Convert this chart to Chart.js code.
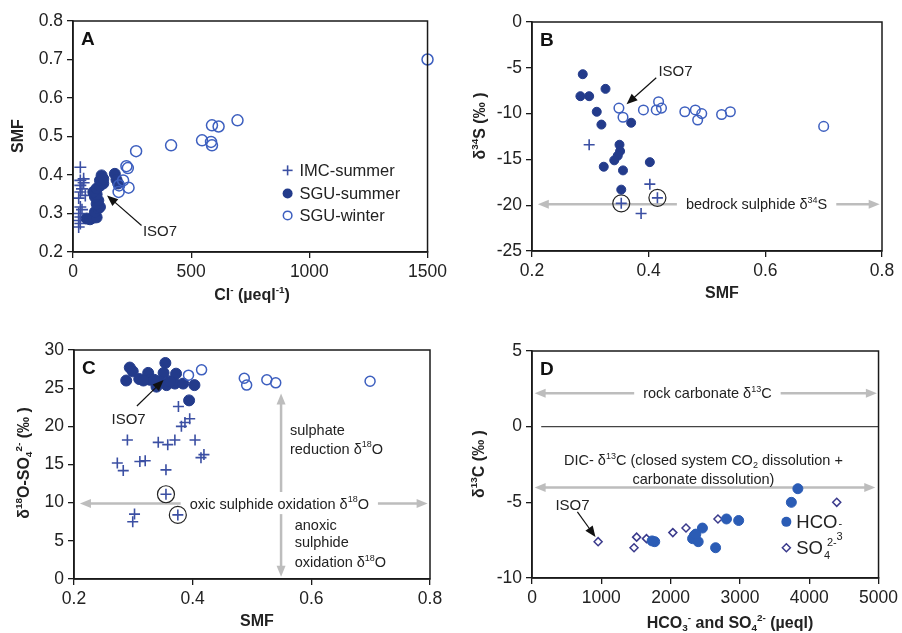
<!DOCTYPE html>
<html lang="en">
<head>
<meta charset="UTF-8" />
<title>SMF and isotope panels</title>
<script src="https://cdn.jsdelivr.net/npm/chart.js"></script>
<style>
  body { margin: 0; background: #fff; width: 902px; height: 633px; position: relative; overflow: hidden; }
  canvas { position: absolute; }
</style>
</head>
<body>
<canvas id="pA" width="451" height="310" style="left:0;top:0"></canvas>
<canvas id="pB" width="451" height="310" style="left:451px;top:0"></canvas>
<canvas id="pC" width="451" height="317" style="left:0;top:316px"></canvas>
<canvas id="pD" width="451" height="317" style="left:451px;top:316px"></canvas>
<script>
// ---- data: [x, y] ----
// A: Cl- (ueql-1) vs SMF
const aImc = [[31,0.42],[45,0.39],[31,0.386],[45,0.38],[31,0.373],[38,0.364],[31,0.356],[52,0.347],[24,0.34],[31,0.317],[38,0.31],[24,0.30],[31,0.291],[24,0.282],[31,0.274],[24,0.265]];
const aSguSummer = [[58,0.287],[72,0.285],[86,0.289],[100,0.29],[93,0.304],[107,0.313],[114,0.317],[100,0.325],[107,0.334],[93,0.343],[100,0.35],[86,0.356],[100,0.365],[114,0.372],[128,0.378],[114,0.386],[121,0.399],[128,0.39],[177,0.403],[184,0.388],[191,0.378]];
const aSguWinter = [[267,0.462],[415,0.477],[546,0.49],[584,0.486],[588,0.477],[588,0.529],[616,0.526],[696,0.542],[226,0.423],[232,0.418],[212,0.386],[235,0.367],[193,0.356],[195,0.373],[1500,0.70]];

// B: SMF vs d34S
const bImc = [[0.298,-13.4],[0.402,-17.7],[0.353,-19.8],[0.415,-19.2],[0.387,-20.9]];
const bCircled = [[0.353,-19.8],[0.415,-19.2]];
const bSguSummer = [[0.287,-5.7],[0.283,-8.1],[0.298,-8.1],[0.326,-7.3],[0.311,-9.8],[0.319,-11.2],[0.37,-11.0],[0.35,-13.4],[0.351,-14.1],[0.347,-14.6],[0.341,-15.1],[0.323,-15.8],[0.356,-16.2],[0.402,-15.3],[0.353,-18.3]];
const bSguWinter = [[0.349,-9.4],[0.356,-10.4],[0.391,-9.6],[0.413,-9.6],[0.417,-8.7],[0.422,-9.4],[0.462,-9.8],[0.48,-9.6],[0.491,-10.0],[0.484,-10.7],[0.525,-10.1],[0.54,-9.8],[0.70,-11.4]];

// C: SMF vs d18O-SO4
const cImc = [[0.376,22.6],[0.395,21.0],[0.387,20.5],[0.381,20.0],[0.29,18.2],[0.342,17.9],[0.358,17.6],[0.37,18.2],[0.404,18.2],[0.273,15.2],[0.283,14.2],[0.311,15.4],[0.32,15.5],[0.355,14.3],[0.414,15.9],[0.419,16.3],[0.355,11.1],[0.375,8.4],[0.302,8.5],[0.299,7.5]];
const cCircled = [[0.355,11.1],[0.375,8.4]];
const cSguSummer = [[0.288,26.0],[0.294,27.7],[0.299,27.2],[0.31,26.2],[0.325,27.0],[0.328,26.1],[0.317,26.0],[0.354,28.3],[0.351,27.0],[0.345,25.9],[0.356,25.4],[0.339,25.2],[0.372,26.9],[0.37,25.6],[0.384,25.6],[0.403,25.4],[0.394,23.4],[0.362,25.9],[0.335,26.1]];
const cSguWinter = [[0.393,26.7],[0.415,27.4],[0.487,26.3],[0.491,25.4],[0.525,26.1],[0.54,25.7],[0.699,25.9]];

// D: HCO3 / SO4 (ueql) vs d13C
const dHco3 = [[3836,-4.1],[3742,-5.0],[2806,-6.1],[2982,-6.2],[2459,-6.7],[2341,-7.2],[2317,-7.4],[2398,-7.6],[2364,-7.1],[2649,-8.0],[1771,-7.6],[1733,-7.55]];
const dSo4 = [[954,-7.6],[1472,-8.0],[1510,-7.3],[1652,-7.4],[2032,-7.0],[2222,-6.7],[2683,-6.1],[4397,-5.0]];

const FONT = "'Liberation Sans', Arial, sans-serif";
const C_IMC = '#3b4fa3', C_SUM = '#233b8b', C_WIN = '#3d5fbf', C_HCO = '#2b5cb5', C_SO4 = '#3a3a8c';
const C_GREY = '#bdbdbd', C_TXT = '#222';

// text with ^{sup} and _{sub} markup
function parse(str) {
  const out = [], re = /([\^_])\{([^}]*)\}|([^\^_]+)/g;
  let m;
  while ((m = re.exec(str))) {
    if (m[3]) out.push([m[3], '']);
    else out.push([m[2], m[1] === '^' ? 'sup' : 'sub']);
  }
  return out;
}
function fnt(size, bold) { return (bold ? 'bold ' : '') + size + 'px ' + FONT; }
function richWidth(ctx, str, size, bold) {
  let w = 0;
  parse(str).forEach(s => { ctx.font = fnt(s[1] ? size * 0.62 : size, bold); w += ctx.measureText(s[0]).width; });
  return w;
}
function rich(ctx, str, x, y, size, bold, align) {
  const w = richWidth(ctx, str, size, bold);
  let cx = align === 'left' ? x : x - w / 2;
  const base = y + size * 0.35;
  ctx.textAlign = 'left';
  ctx.textBaseline = 'alphabetic';
  parse(str).forEach(s => {
    const sz = s[1] ? size * 0.62 : size;
    const dy = s[1] === 'sup' ? -size * 0.42 : s[1] === 'sub' ? size * 0.22 : 0;
    ctx.font = fnt(sz, bold);
    ctx.fillText(s[0], cx, base + dy);
    cx += ctx.measureText(s[0]).width;
  });
  return w;
}

function px(chart, x, y) {
  return [chart.scales.x.getPixelForValue(x), chart.scales.y.getPixelForValue(y)];
}
function head(ctx, x, y, ang, len, hw) {
  const c = Math.cos(ang), s = Math.sin(ang);
  ctx.beginPath();
  ctx.moveTo(x, y);
  ctx.lineTo(x - len * c + hw * s, y - len * s - hw * c);
  ctx.lineTo(x - len * c - hw * s, y - len * s + hw * c);
  ctx.closePath();
  ctx.fill();
}
function seg(ctx, x1, y1, x2, y2) {
  ctx.beginPath(); ctx.moveTo(x1, y1); ctx.lineTo(x2, y2); ctx.stroke();
}
// black pointer arrow (tail -> head) in data units
function pointer(chart, t, h) {
  const ctx = chart.ctx;
  const [x1, y1] = px(chart, t[0], t[1]), [x2, y2] = px(chart, h[0], h[1]);
  const ang = Math.atan2(y2 - y1, x2 - x1);
  ctx.strokeStyle = '#111'; ctx.fillStyle = '#111'; ctx.lineWidth = 1.2;
  seg(ctx, x1, y1, x2 - 8 * Math.cos(ang), y2 - 8 * Math.sin(ang));
  head(ctx, x2, y2, ang, 11, 4.5);
}
// grey double arrow, horizontal, optional label breaking the line
function greyH(chart, y, xa, xb, label, xc) {
  const ctx = chart.ctx;
  const [p1, py] = px(chart, xa, y), [p2] = px(chart, xb, y);
  ctx.strokeStyle = C_GREY; ctx.fillStyle = C_GREY; ctx.lineWidth = 2.5;
  if (label) {
    const [pc] = px(chart, xc, y);
    const w = richWidth(ctx, label, 14.5, false);
    seg(ctx, p1 + 8, py, pc - w / 2 - 9, py);
    seg(ctx, pc + w / 2 + 9, py, p2 - 8, py);
    ctx.fillStyle = C_GREY;
    head(ctx, p1, py, Math.PI, 11, 4.5);
    head(ctx, p2, py, 0, 11, 4.5);
    ctx.fillStyle = C_TXT;
    rich(ctx, label, pc, py, 14.5, false, 'center');
  } else {
    seg(ctx, p1 + 8, py, p2 - 8, py);
    head(ctx, p1, py, Math.PI, 11, 4.5);
    head(ctx, p2, py, 0, 11, 4.5);
  }
}
function note(chart, str, x, y, align, size) {
  const [a, b] = px(chart, x, y);
  chart.ctx.fillStyle = C_TXT;
  rich(chart.ctx, str, a, b, size || 14.5, false, align || 'center');
}

function pts(arr) { return arr.map(p => ({ x: p[0], y: p[1] })); }

function panel(id, o) {
  const tick = { font: { family: FONT, size: 17.5 }, color: C_TXT };
  const grid = { drawOnChartArea: false, drawTicks: true, tickLength: 6, color: '#1a1a1a', lineWidth: 1.3 };
  const decor = {
    id: 'decor',
    beforeDatasetsDraw(chart) {
      chart.ctx.save();
      if (o.under) o.under(chart, chart.ctx);
      chart.ctx.restore();
    },
    afterDatasetsDraw(chart) {
      const ctx = chart.ctx, a = chart.chartArea;
      ctx.save();
      ctx.strokeStyle = '#1a1a1a'; ctx.lineWidth = 1.5;
      ctx.strokeRect(a.left, a.top, a.right - a.left, a.bottom - a.top);
      ctx.fillStyle = '#111';
      ctx.font = fnt(19, true); ctx.textAlign = 'left'; ctx.textBaseline = 'alphabetic';
      ctx.fillText(o.letter, a.left + 8, a.top + 24);
      ctx.fillStyle = C_TXT;
      rich(ctx, o.xTitle, o.xt[0], o.xt[1], 16, true, 'center');
      ctx.translate(o.yt[0], o.yt[1]);
      ctx.rotate(-Math.PI / 2);
      rich(ctx, o.yTitle, 0, 0, 16, true, 'center');
      ctx.setTransform(1, 0, 0, 1, 0, 0);
      if (o.over) o.over(chart, ctx);
      ctx.restore();
    }
  };
  o.datasets.forEach(d => { d.clip = false; });
  return new Chart(document.getElementById(id), {
    type: 'scatter',
    data: { datasets: o.datasets },
    options: {
      responsive: false,
      animation: false,
      devicePixelRatio: 1,
      layout: { padding: { top: o.pad[0], right: o.pad[1], left: 0, bottom: 0 } },
      plugins: { legend: { display: false }, tooltip: { enabled: false } },
      scales: {
        x: {
          type: 'linear', min: o.x[0], max: o.x[1],
          ticks: { ...tick, stepSize: o.x[2], padding: 4, maxRotation: 0, autoSkip: false, callback: o.x[3] },
          grid, border: { color: '#1a1a1a', width: 1.5 },
          afterFit(s) { s.height = o.size[1]; }
        },
        y: {
          type: 'linear', min: o.y[0], max: o.y[1],
          ticks: { ...tick, stepSize: o.y[2], padding: 4, autoSkip: false, callback: o.y[3] },
          grid, border: { color: '#1a1a1a', width: 1.5 },
          afterFit(s) { s.width = o.size[0]; }
        }
      }
    },
    plugins: [decor]
  });
}

const f1 = v => v.toFixed(1), f0 = v => String(Math.round(v));
const cross = (data, r) => ({ data: pts(data), pointStyle: 'cross', radius: r, borderColor: C_IMC, borderWidth: 1.6 });
const filled = (data, r, c) => ({ data: pts(data), pointStyle: 'circle', radius: r, backgroundColor: c || C_SUM, borderColor: c || C_SUM, borderWidth: 1 });
const open = (data, r) => ({ data: pts(data), pointStyle: 'circle', radius: r, backgroundColor: 'rgba(255,255,255,0)', borderColor: C_WIN, borderWidth: 1.5 });
const ring = (data) => ({ data: pts(data), pointStyle: 'circle', radius: 8.5, backgroundColor: 'rgba(255,255,255,0)', borderColor: '#222', borderWidth: 1.2 });

// ---- A ----
panel('pA', {
  letter: 'A', pad: [21, 19], size: [73, 58],
  x: [0, 1500, 500, f0], y: [0.2, 0.8, 0.1, f1],
  xTitle: 'Cl^{-} (µeql^{-1})', xt: [252, 294], yTitle: 'SMF', yt: [17, 136],
  datasets: [open(aSguWinter, 5.5), filled(aSguSummer, 5.5), cross(aImc, 6)],
  over(chart, ctx) {
    note(chart, 'ISO7', 368, 0.254, 'center', 15);
    pointer(chart, [290, 0.269], [144, 0.347]);
    const rows = [['IMC-summer', 0.412], ['SGU-summer', 0.352], ['SGU-winter', 0.295]];
    rows.forEach((r, i) => {
      const [mx, my] = px(chart, 908, r[1]);
      if (i === 0) {
        ctx.strokeStyle = C_IMC; ctx.lineWidth = 1.6;
        seg(ctx, mx - 5, my, mx + 5, my); seg(ctx, mx, my - 5, mx, my + 5);
      } else {
        ctx.beginPath(); ctx.arc(mx, my, i === 1 ? 5 : 4.3, 0, Math.PI * 2);
        if (i === 1) { ctx.fillStyle = C_SUM; ctx.fill(); }
        else { ctx.strokeStyle = C_WIN; ctx.lineWidth = 1.5; ctx.stroke(); }
      }
      note(chart, r[0], 958, r[1], 'left', 16.5);
    });
  }
});

// ---- B ----
panel('pB', {
  letter: 'B', pad: [22, 20], size: [81, 59],
  x: [0.2, 0.8, 0.2, f1], y: [-25, 0, 5, f0],
  xTitle: 'SMF', xt: [271, 292], yTitle: 'δ^{34}S (‰ )', yt: [28, 126],
  datasets: [open(bSguWinter, 4.8), filled(bSguSummer, 4.5), cross(bImc, 5.5), ring(bCircled)],
  under(chart) {
    greyH(chart, -19.9, 0.21, 0.796, 'bedrock sulphide δ^{34}S', 0.585);
  },
  over(chart) {
    note(chart, 'ISO7', 0.446, -5.35, 'center', 15);
    pointer(chart, [0.413, -6.08], [0.362, -8.99]);
  }
});

// ---- C ----
panel('pC', {
  letter: 'C', pad: [34, 21], size: [74, 54],
  x: [0.2, 0.8, 0.2, f1], y: [0, 30, 5, f0],
  xTitle: 'SMF', xt: [257, 304], yTitle: 'δ^{18}O-SO_{4}^{2-} (‰ )', yt: [23, 147],
  datasets: [open(cSguWinter, 5), filled(cSguSummer, 5.5), cross(cImc, 5.5), ring(cCircled)],
  under(chart, ctx) {
    greyH(chart, 9.9, 0.21, 0.796, 'oxic sulphide oxidation δ^{18}O', 0.546);
    const [vx, vt] = px(chart, 0.549, 24.3), [, v1] = px(chart, 0.549, 11.4);
    const [, v2] = px(chart, 0.549, 8.5), [, vb] = px(chart, 0.549, 0.3);
    ctx.strokeStyle = C_GREY; ctx.fillStyle = C_GREY; ctx.lineWidth = 2.5;
    seg(ctx, vx, vt + 8, vx, v1);
    seg(ctx, vx, v2, vx, vb - 8);
    head(ctx, vx, vt, -Math.PI / 2, 11, 4.5);
    head(ctx, vx, vb, Math.PI / 2, 11, 4.5);
    note(chart, 'sulphate', 0.564, 19.5, 'left');
    note(chart, 'reduction δ^{18}O', 0.564, 17.1, 'left');
    note(chart, 'anoxic', 0.572, 7.07, 'left');
    note(chart, 'sulphide', 0.572, 4.8, 'left');
    note(chart, 'oxidation δ^{18}O', 0.572, 2.27, 'left');
  },
  over(chart) {
    note(chart, 'ISO7', 0.292, 20.96, 'center', 15);
    pointer(chart, [0.306, 22.66], [0.351, 26.07]);
  }
});

// ---- D ----
panel('pD', {
  letter: 'D', pad: [35, 19], size: [81, 55],
  x: [0, 5000, 1000, f0], y: [-10, 5, 5, f0],
  xTitle: 'HCO_{3}^{-} and SO_{4}^{2-} (µeql)', xt: [279, 306], yTitle: 'δ^{13}C (‰ )', yt: [27, 148],
  datasets: [
    filled(dHco3, 5, C_HCO),
    { data: pts(dSo4), pointStyle: 'rectRot', radius: 4, backgroundColor: '#fff', borderColor: C_SO4, borderWidth: 1.5 }
  ],
  under(chart, ctx) {
    const [z1, zy] = px(chart, 133, 0), [z2] = px(chart, 5000, 0);
    ctx.strokeStyle = '#444'; ctx.lineWidth = 1.4;
    seg(ctx, z1, zy, z2, zy);
    greyH(chart, 2.2, 38, 4976, 'rock carbonate δ^{13}C', 2531);
    greyH(chart, -4.02, 38, 4953);
    note(chart, 'DIC- δ^{13}C (closed system CO_{2} dissolution +', 2474, -2.2);
    note(chart, 'carbonate dissolution)', 2474, -3.43);
  },
  over(chart, ctx) {
    note(chart, 'ISO7', 584, -5.15, 'center', 15);
    pointer(chart, [655, -5.63], [916, -7.29]);
    // legend
    const [lx, ly1] = px(chart, 3670, -6.29), [, ly2] = px(chart, 3670, -8.0);
    const [tx] = px(chart, 3813, 0);
    ctx.fillStyle = C_HCO;
    ctx.beginPath(); ctx.arc(lx, ly1, 5, 0, Math.PI * 2); ctx.fill();
    ctx.strokeStyle = C_SO4; ctx.fillStyle = '#fff'; ctx.lineWidth = 1.5;
    ctx.beginPath(); ctx.moveTo(lx, ly2 - 4); ctx.lineTo(lx + 4, ly2); ctx.lineTo(lx, ly2 + 4); ctx.lineTo(lx - 4, ly2); ctx.closePath();
    ctx.fill(); ctx.stroke();
    ctx.fillStyle = C_TXT; ctx.textAlign = 'left'; ctx.textBaseline = 'alphabetic';
    ctx.font = fnt(18.5, false);
    const b1 = ly1 + 6.5, w1 = ctx.measureText('HCO').width;
    ctx.fillText('HCO', tx, b1);
    ctx.font = fnt(11, false);
    ctx.fillText('-', tx + w1 + 1, b1 - 1);
    ctx.fillText('3', tx + w1 - 1, b1 + 12);
    ctx.font = fnt(18.5, false);
    const b2 = ly2 + 6.5, w2 = ctx.measureText('SO').width;
    ctx.fillText('SO', tx, b2);
    ctx.font = fnt(11, false);
    ctx.fillText('4', tx + w2 + 1, b2 + 5);
    ctx.fillText('2-', tx + w2 + 4, b2 - 8);
  }
});
</script>
</body>
</html>
